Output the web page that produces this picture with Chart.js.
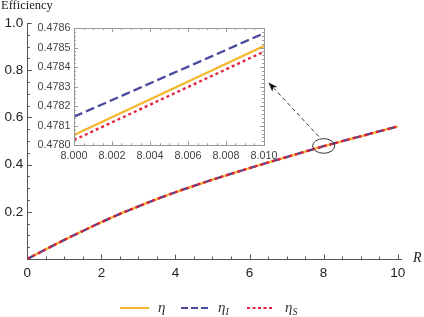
<!DOCTYPE html>
<html>
<head>
<meta charset="utf-8">
<script src="https://cdn.jsdelivr.net/npm/chart.js@4"></script>
<style>
  body { margin: 0; background: #fff; }
  #wrap { position: relative; width: 424px; height: 317px; background: #fff; overflow: hidden; }
  #main { position: absolute; left: 0; top: 0; }
  #inset { position: absolute; left: 14px; top: 18px; }
  .lbl { position: absolute; font-family: "Liberation Serif", "DejaVu Serif", serif; color: #222; white-space: nowrap; }
  .leg { position: absolute; font-family: "Liberation Serif", "DejaVu Serif", serif; font-style: italic; font-size: 15px; line-height: 14px; color: #333; }
  .leg sub { font-size: 10px; vertical-align: -3px; }
  svg { position: absolute; }
</style>
</head>
<body>
<div id="wrap">
  <canvas id="main" width="424" height="317"></canvas>
  <canvas id="inset" width="270" height="146"></canvas>
  <div class="lbl" style="left:1px; top:-2px; font-size:12.5px;">Efficiency</div>
  <div class="lbl" style="left:413px; top:250px; font-size:14px; font-style:italic;">R</div>

  <svg style="left:120px; top:303px;" width="30" height="10"><line x1="0" y1="5" x2="29" y2="5" stroke="#F6B62D" stroke-width="2"/></svg>
  <div class="leg" style="left:158px; top:300px;">η</div>
  <svg style="left:181px; top:303px;" width="30" height="10"><line x1="0" y1="5" x2="27" y2="5" stroke="#4A4A9C" stroke-width="2" stroke-dasharray="7,3"/></svg>
  <div class="leg" style="left:218px; top:300px;">η<sub>I</sub></div>
  <svg style="left:247px; top:303px;" width="30" height="10"><line x1="0" y1="5" x2="27" y2="5" stroke="#E3203D" stroke-width="2" stroke-dasharray="3,2.5"/></svg>
  <div class="leg" style="left:285px; top:300px;">η<sub>S</sub></div>
</div>
<script>
// valores
const rValues = [0, 0.5, 1, 1.5, 2, 2.5, 3, 3.5, 4, 4.5, 5, 5.5, 6, 6.5, 7, 7.5, 8, 8.5, 9, 9.5, 10];
// as tres curvas coincidem nesta escala
const etaValues = [0, 0.041, 0.081, 0.119, 0.156, 0.191, 0.223, 0.254, 0.283, 0.310, 0.336,
                   0.361, 0.385, 0.409, 0.432, 0.455, 0.478, 0.499, 0.520, 0.541, 0.562];
const xTickLabels = [0, 2, 4, 6, 8, 10];
const yTickLabels = [0.2, 0.4, 0.6, 0.8, 1.0];

// zoom (inset)
const insetR = [8.000, 8.010];
const insetEta = [0.478053, 0.478508];
const insetEtaI = [0.478146, 0.478573];
const insetEtaS = [0.478027, 0.478479];
const insetXTicks = [8.000, 8.002, 8.004, 8.006, 8.008, 8.010];
const insetYTicks = [0.4780, 0.4781, 0.4782, 0.4783, 0.4784, 0.4785, 0.4786];

const amarelo = '#F6B62D';
const azul = '#4A4A9C';
const vermelho = '#E3203D';

function pontos(xs, ys) {
  return xs.map((x, i) => ({x: x, y: ys[i]}));
}

function serie(label, xs, ys, cor, dash, ordem) {
  return {
    label: label,
    data: pontos(xs, ys),
    borderColor: cor,
    borderWidth: 2.3,
    borderDash: dash,
    pointRadius: 0,
    fill: false,
    cubicInterpolationMode: 'monotone',
    order: ordem
  };
}

const marcasPrincipal = {
  id: 'marcasPrincipal',
  afterDraw(chart) {
    const ctx = chart.ctx;
    const x = chart.scales.x, y = chart.scales.y, a = chart.chartArea;
    ctx.save();
    ctx.strokeStyle = '#555';
    ctx.lineWidth = 1;
    ctx.beginPath();
    for (let i = 0; i <= 20; i++) {
      const v = i * 0.5;
      const px = Math.round(x.getPixelForValue(v)) + 0.5;
      const len = i % 4 === 0 ? 4.5 : 2.5;
      ctx.moveTo(px, a.bottom);
      ctx.lineTo(px, a.bottom - len);
    }
    for (let i = 0; i <= 20; i++) {
      const v = i * 0.05;
      const py = Math.round(y.getPixelForValue(v)) + 0.5;
      const len = i % 4 === 0 ? 4.5 : 2.5;
      ctx.moveTo(a.left, py);
      ctx.lineTo(a.left + len, py);
    }
    ctx.stroke();

    // elipse e seta
    const cx = x.getPixelForValue(8.0), cy = y.getPixelForValue(0.479);
    ctx.strokeStyle = '#333';
    ctx.beginPath();
    ctx.ellipse(cx, cy, 11, 7.3, 0, 0, Math.PI * 2);
    ctx.stroke();

    const x0 = x.getPixelForValue(7.87), y0 = y.getPixelForValue(0.519);
    const x1 = x.getPixelForValue(6.51), y1 = y.getPixelForValue(0.748);
    const ang = Math.atan2(y1 - y0, x1 - x0);
    const head = 10;
    ctx.setLineDash([4, 3]);
    ctx.beginPath();
    ctx.moveTo(x0, y0);
    ctx.lineTo(x1 - Math.cos(ang) * head * 0.8, y1 - Math.sin(ang) * head * 0.8);
    ctx.stroke();
    ctx.setLineDash([]);
    ctx.fillStyle = '#111';
    ctx.beginPath();
    ctx.moveTo(x1, y1);
    ctx.lineTo(x1 - Math.cos(ang - 0.35) * head, y1 - Math.sin(ang - 0.35) * head);
    ctx.lineTo(x1 - Math.cos(ang) * head * 0.7, y1 - Math.sin(ang) * head * 0.7);
    ctx.lineTo(x1 - Math.cos(ang + 0.35) * head, y1 - Math.sin(ang + 0.35) * head);
    ctx.closePath();
    ctx.fill();
    ctx.restore();
  }
};

var grafico = new Chart(document.getElementById('main'), {
  type: 'line',
  data: {
    datasets: [
      serie('η', rValues, etaValues, amarelo, [], 3),
      serie('ηI', rValues, etaValues, azul, [8, 4], 2),
      serie('ηS', rValues, etaValues, vermelho, [3, 3], 1)
    ]
  },
  options: {
    responsive: false,
    animation: false,
    devicePixelRatio: 1,
    layout: { padding: { left: 0, right: 22.6, top: 23, bottom: 0 } },
    plugins: { legend: { display: false }, tooltip: { enabled: false } },
    scales: {
      x: {
        type: 'linear',
        min: 0,
        max: 10.1,
        grid: { display: false, drawTicks: false },
        border: { display: true, color: '#555', width: 1 },
        afterBuildTicks: (s) => { s.ticks = xTickLabels.map(v => ({value: v})); },
        afterFit: (s) => { s.height = 58; },
        ticks: {
          autoSkip: false, maxRotation: 0, padding: 6,
          color: '#222',
          font: { family: 'Liberation Sans, Arial, sans-serif', size: 13.5 },
          callback: (v) => String(v)
        }
      },
      y: {
        type: 'linear',
        min: 0,
        max: 1.0,
        grid: { display: false, drawTicks: false },
        border: { display: true, color: '#555', width: 1 },
        afterBuildTicks: (s) => { s.ticks = yTickLabels.map(v => ({value: v})); },
        afterFit: (s) => { s.width = 27.3; },
        ticks: {
          autoSkip: false, padding: 4,
          color: '#222',
          font: { family: 'Liberation Sans, Arial, sans-serif', size: 13.5 },
          callback: (v) => v.toFixed(1)
        }
      }
    }
  },
  plugins: [marcasPrincipal]
});

const molduraInset = {
  id: 'molduraInset',
  afterDraw(chart) {
    const ctx = chart.ctx;
    const x = chart.scales.x, y = chart.scales.y, a = chart.chartArea;
    ctx.save();
    ctx.strokeStyle = '#999';
    ctx.lineWidth = 1;
    ctx.strokeRect(Math.round(a.left) + 0.5, Math.round(a.top) + 0.5,
                   Math.round(a.right - a.left), Math.round(a.bottom - a.top));
    ctx.beginPath();
    for (let i = 0; i <= 20; i++) {
      const v = 8.0 + i * 0.0005;
      const px = Math.round(x.getPixelForValue(v)) + 0.5;
      const len = i % 4 === 0 ? 4 : 2;
      ctx.moveTo(px, a.bottom); ctx.lineTo(px, a.bottom - len);
      ctx.moveTo(px, a.top); ctx.lineTo(px, a.top + len);
    }
    for (let i = 0; i <= 30; i++) {
      const v = 0.4780 + i * 0.00002;
      const py = Math.round(y.getPixelForValue(v)) + 0.5;
      const len = i % 5 === 0 ? 4 : 2;
      ctx.moveTo(a.left, py); ctx.lineTo(a.left + len, py);
      ctx.moveTo(a.right, py); ctx.lineTo(a.right - len, py);
    }
    ctx.stroke();
    ctx.restore();
  }
};

var grafico_2 = new Chart(document.getElementById('inset'), {
  type: 'line',
  data: {
    datasets: [
      serie('η', insetR, insetEta, amarelo, [], 3),
      serie('ηI', insetR, insetEtaI, azul, [9, 4], 2),
      serie('ηS', insetR, insetEtaS, vermelho, [3, 3], 1)
    ]
  },
  options: {
    responsive: false,
    animation: false,
    devicePixelRatio: 1,
    layout: { padding: { left: 0, right: 20, top: 10, bottom: 0 } },
    plugins: { legend: { display: false }, tooltip: { enabled: false } },
    scales: {
      x: {
        type: 'linear',
        min: 8.000,
        max: 8.010,
        grid: { display: false, drawTicks: false },
        border: { display: false },
        afterBuildTicks: (s) => { s.ticks = insetXTicks.map(v => ({value: v})); },
        afterFit: (s) => { s.height = 18.7; },
        ticks: {
          autoSkip: false, maxRotation: 0, padding: 4,
          color: '#444',
          font: { family: 'Liberation Sans, Arial, sans-serif', size: 10.8 },
          callback: (v) => v.toFixed(3)
        }
      },
      y: {
        type: 'linear',
        min: 0.4780,
        max: 0.4786,
        grid: { display: false, drawTicks: false },
        border: { display: false },
        afterBuildTicks: (s) => { s.ticks = insetYTicks.map(v => ({value: v})); },
        afterFit: (s) => { s.width = 60; },
        ticks: {
          autoSkip: false, padding: 3.5,
          color: '#444',
          font: { family: 'Liberation Sans, Arial, sans-serif', size: 10.8 },
          callback: (v) => v.toFixed(4)
        }
      }
    }
  },
  plugins: [molduraInset]
});
</script>
</body>
</html>
